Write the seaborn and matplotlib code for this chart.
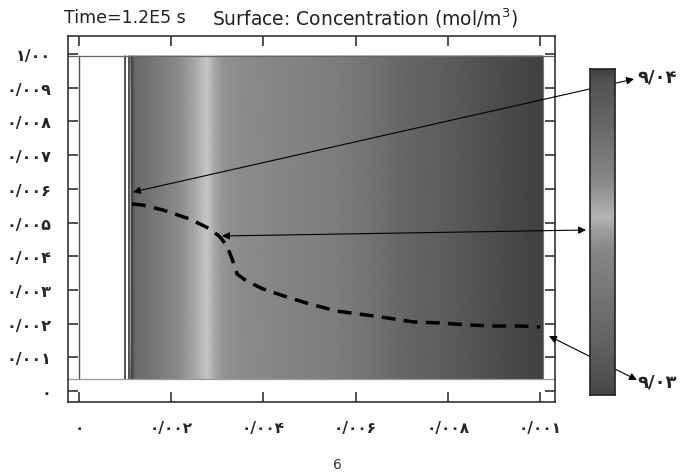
import numpy as np
import matplotlib
matplotlib.use("Agg")
import matplotlib.pyplot as plt
import seaborn as sns
import pandas as pd

sns.set_style("white")
plt.rcParams['font.family'] = ['DejaVu Sans']

# ---------------- data ----------------
# dashed profile line (x in m, y in m)
line_x = [0.00115, 0.00137, 0.00182, 0.00241, 0.00284, 0.00306, 0.00321, 0.00332,
          0.00343, 0.00364, 0.00399, 0.00451, 0.00501, 0.00560, 0.00610, 0.00668,
          0.00725, 0.00783, 0.00842, 0.00898, 0.00957, 0.01000]
line_y = [0.00555, 0.00552, 0.00537, 0.00510, 0.00481, 0.00457, 0.00430, 0.00392,
          0.00347, 0.00326, 0.00303, 0.00279, 0.00258, 0.00237, 0.00228, 0.00217,
          0.00205, 0.00202, 0.00196, 0.00193, 0.00193, 0.00190]

# surface shading across x (gray level 0-255)
surf_x = [0.001128, 0.001215, 0.001605, 0.002191, 0.00256, 0.002777, 0.002928,
          0.003102, 0.003492, 0.004143, 0.005597, 0.006312, 0.007028, 0.007766,
          0.008482, 0.009197, 0.010065]
surf_shade = [60, 105, 118, 140, 172, 198, 170, 148, 140, 135, 125, 115, 102, 95,
              85, 75, 65]

# colour bar shading from bottom (0) to top (1)
bar_pos = [0.0, 0.003, 0.141, 0.294, 0.448, 0.509, 0.546, 0.583, 0.659, 0.813, 0.969, 1.0]
bar_shade = [70, 70, 95, 115, 135, 160, 180, 165, 135, 105, 80, 60]

xticks = [0.0, 0.002, 0.004, 0.006, 0.008, 0.010]
xtick_labels = ['۰', '۰/۰۰۲', '۰/۰۰۴', '۰/۰۰۶', '۰/۰۰۸', '۰/۰۰۱']
yticks = [0.0, 0.001, 0.002, 0.003, 0.004, 0.005, 0.006, 0.007, 0.008, 0.009, 0.010]
ytick_labels = ['۰', '۰/۰۰۱', '۰/۰۰۲', '۰/۰۰۳', '۰/۰۰۴', '۰/۰۰۵', '۰/۰۰۶',
                '۰/۰۰۷', '۰/۰۰۸', '۰/۰۰۹', '۱/۰۰']
bar_top_label = '۹/۰۴'
bar_bottom_label = '۹/۰۳'
title_time = 'Time=1.2E5 s'
title_surface = 'Surface: Concentration (mol/m$^3$)'

# ---------------- figure ----------------
W, H = 687, 477
fig = plt.figure(figsize=(W / 100, H / 100), dpi=100)
ax = fig.add_axes([68 / W, 1 - 403 / H, 487 / W, 366 / H])

img_x0, img_x1 = 0.0, 0.010065
img_y0, img_y1 = 0.000356, 0.00994
ax.set_xlim(-0.000239, 0.010325)
ax.set_ylim(-0.000326, 0.010534)

# surface
X = np.array([surf_x, surf_x])
Y = np.array([[img_y0] * len(surf_x), [img_y1] * len(surf_x)])
C = np.array([surf_shade, surf_shade], dtype=float)
ax.pcolormesh(X, Y, C, shading='gouraud', cmap='gray', vmin=0, vmax=255, zorder=1)

# white block boundary lines
for xv in [0.000998, 0.001095]:
    ax.plot([xv, xv], [img_y0, img_y1], color='#222222', lw=1.1, zorder=2)
ax.plot([img_x0, img_x0], [img_y0, img_y1], color='#555555', lw=1.0, zorder=2)
ax.plot([img_x1, img_x1], [img_y0, img_y1], color='#777777', lw=0.8, zorder=2)
ax.axhline(img_y1, color='#666666', lw=0.9, zorder=2)
ax.axhline(img_y0, color='#999999', lw=0.9, zorder=2)

# dashed line
df = pd.DataFrame({'x': line_x, 'y': line_y})
sns.lineplot(data=df, x='x', y='y', ax=ax, color='black', lw=2.5, sort=False,
             estimator=None, zorder=3)
ax.lines[-1].set_dashes((4.0, 2.4))

ax.set_xticks(xticks)
ax.set_xticklabels(xtick_labels, fontsize=11, fontweight='bold')
ax.set_yticks(yticks)
ax.set_yticklabels(ytick_labels, fontsize=11.5, fontweight='bold')
ax.tick_params(axis='x', direction='in', top=True, bottom=True, length=7, width=1.2,
               color='#333333', pad=13)
ax.tick_params(axis='y', direction='in', left=True, right=True, length=7, width=1.2,
               color='#333333', pad=12)
ax.set_xlabel('')
ax.set_ylabel('')
for s in ax.spines.values():
    s.set_color('#333333')
    s.set_linewidth(1.2)
    s.set_visible(True)

# colour bar
cax = fig.add_axes([590 / W, 1 - 396 / H, 25 / W, 326 / H])
BX = np.array([[0, 1]] * len(bar_pos), dtype=float)
BY = np.array([[p, p] for p in bar_pos])
BC = np.array([[s, s] for s in bar_shade], dtype=float)
cax.pcolormesh(BX, BY, BC, shading='gouraud', cmap='gray', vmin=0, vmax=255)
cax.set_xlim(0, 1)
cax.set_ylim(0, 1)
cax.set_xticks([])
cax.set_yticks([])
for s in cax.spines.values():
    s.set_color('#222222')
    s.set_linewidth(1.2)
    s.set_visible(True)

fig.text(637 / W, 1 - 77 / H, bar_top_label, fontsize=13, fontweight='bold',
         ha='left', va='center')
fig.text(637 / W, 1 - 383 / H, bar_bottom_label, fontsize=13, fontweight='bold',
         ha='left', va='center')

# arrows (double headed)
arrow_kw = dict(arrowstyle='<|-|>', color='black', lw=0.8, mutation_scale=11,
                shrinkA=0, shrinkB=0)
arrows = [((0.001171, 0.005905), (634, 477 - 80)),
          ((0.003102, 0.0046), (586, 477 - 231)),
          ((0.010195, 0.001632), (637, 477 - 381))]
for xy, xyt in arrows:
    ax.annotate('', xy=xy, xycoords='data', xytext=xyt, textcoords='figure pixels',
                arrowprops=arrow_kw, annotation_clip=False, zorder=5)

fig.text(64 / W, 1 - 18 / H, title_time, fontsize=12.5, ha='left', va='center',
         color='#222222')
fig.text(212 / W, 1 - 18 / H, title_surface, fontsize=13.5, ha='left', va='center',
         color='#222222')
fig.text(337 / W, 1 - 465 / H, '6', fontsize=10, ha='center', va='center',
         color='#333333')

fig.savefig('out.png', dpi=100, facecolor='white')
